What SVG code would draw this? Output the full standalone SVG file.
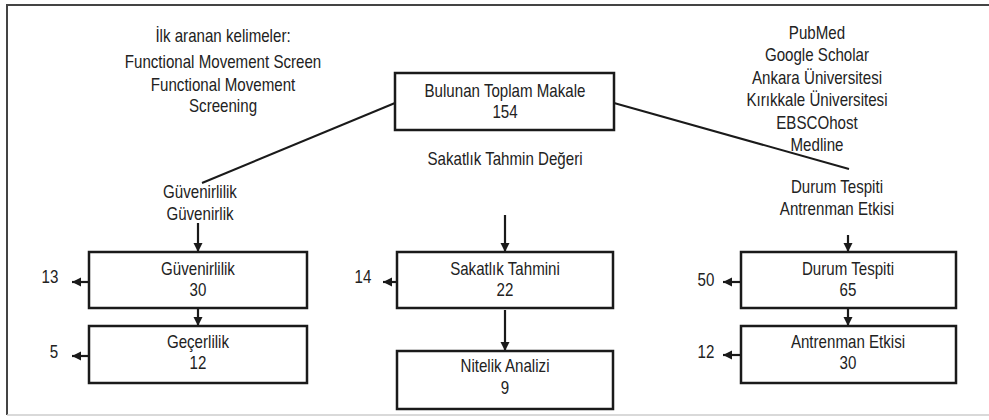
<svg xmlns="http://www.w3.org/2000/svg" width="989" height="420" viewBox="0 0 989 420">
<defs>
<style>
text{font-family:"Liberation Sans",Arial,sans-serif;font-size:18px;fill:#222;text-anchor:middle}
.box{fill:#fff;stroke:#1a1a1a;stroke-width:2.5}
.ln{stroke:#1a1a1a;stroke-width:2;fill:none}
.ar{stroke:#1a1a1a;stroke-width:2.2;fill:none;marker-end:url(#ah)}
</style>
<marker id="ah" markerUnits="userSpaceOnUse" markerWidth="10" markerHeight="10" refX="9" refY="4.5" orient="auto">
<path d="M0,0 L9,4.5 L0,9 z" fill="#1a1a1a"/>
</marker>
</defs>
<rect width="989" height="420" fill="#fff"/>
<g id="frame">
<path d="M7,415 V5 H989" stroke="#444" stroke-width="2" fill="none"/>
<path d="M7,415 H989" stroke="#ccc" stroke-width="1.5" fill="none"/>
</g>
<g id="search-terms" transform="scale(0.84,1)">
<text x="265.5" y="42">İlk aranan kelimeler:</text>
<text x="265.5" y="68">Functional Movement Screen</text>
<text x="265.5" y="91">Functional Movement</text>
<text x="265.5" y="112">Screening</text>
</g>
<g id="databases" transform="scale(0.84,1)">
<text x="972.6" y="39">PubMed</text>
<text x="972.6" y="61">Google Scholar</text>
<text x="972.6" y="84">Ankara Üniversitesi</text>
<text x="972.6" y="106">Kırıkkale Üniversitesi</text>
<text x="972.6" y="129">EBSCOhost</text>
<text x="972.6" y="151">Medline</text>
</g>
<g id="connectors">
<line class="ln" x1="395" y1="103" x2="202" y2="183"/>
<line class="ln" x1="614" y1="103" x2="849" y2="169"/>
<line class="ar" x1="198" y1="223" x2="198" y2="252"/>
<line class="ar" x1="198" y1="308" x2="198" y2="326"/>
<line class="ar" x1="505" y1="215" x2="505" y2="252"/>
<line class="ar" x1="505" y1="310" x2="505" y2="351"/>
<line class="ar" x1="848" y1="235" x2="848" y2="252"/>
<line class="ar" x1="848" y1="308" x2="848" y2="326"/>
<line class="ar" x1="89" y1="282" x2="72" y2="282"/>
<line class="ar" x1="89" y1="356" x2="72" y2="356"/>
<line class="ar" x1="397" y1="282" x2="383" y2="282"/>
<line class="ar" x1="741" y1="282" x2="723" y2="282"/>
<line class="ar" x1="741" y1="355" x2="723" y2="355"/>
</g>
<g id="labels" transform="scale(0.84,1)">
<text x="238.1" y="198">Güvenirlilik</text>
<text x="238.1" y="220">Güvenirlik</text>
<text x="601.2" y="165">Sakatlık Tahmin Değeri</text>
<text x="996.4" y="193">Durum Tespiti</text>
<text x="996.4" y="215">Antrenman Etkisi</text>
<text x="59.5" y="283">13</text>
<text x="64.3" y="358">5</text>
<text x="432.1" y="283">14</text>
<text x="840.5" y="286">50</text>
<text x="840.5" y="358">12</text>
</g>
<g id="node-total">
<rect class="box" x="395" y="73" width="219" height="57"/>
<g transform="scale(0.84,1)">
<text x="601.2" y="97">Bulunan Toplam Makale</text>
<text x="601.2" y="118">154</text>
</g>
</g>
<g id="node-guvenirlilik">
<rect class="box" x="89" y="252" width="218" height="56"/>
<g transform="scale(0.84,1)">
<text x="235.7" y="275">Güvenirlilik</text>
<text x="235.7" y="296">30</text>
</g>
</g>
<g id="node-gecerlilik">
<rect class="box" x="89" y="326" width="218" height="57"/>
<g transform="scale(0.84,1)">
<text x="235.7" y="348">Geçerlilik</text>
<text x="235.7" y="369">12</text>
</g>
</g>
<g id="node-sakatlik">
<rect class="box" x="397" y="252" width="216" height="56"/>
<g transform="scale(0.84,1)">
<text x="601.2" y="275">Sakatlık Tahmini</text>
<text x="601.2" y="296">22</text>
</g>
</g>
<g id="node-nitelik">
<rect class="box" x="397" y="351" width="216" height="58"/>
<g transform="scale(0.84,1)">
<text x="601.2" y="372">Nitelik Analizi</text>
<text x="601.2" y="394">9</text>
</g>
</g>
<g id="node-durum">
<rect class="box" x="741" y="252" width="215" height="56"/>
<g transform="scale(0.84,1)">
<text x="1009.5" y="275">Durum Tespiti</text>
<text x="1009.5" y="296">65</text>
</g>
</g>
<g id="node-antrenman">
<rect class="box" x="741" y="326" width="215" height="57"/>
<g transform="scale(0.84,1)">
<text x="1009.5" y="348">Antrenman Etkisi</text>
<text x="1009.5" y="369">30</text>
</g>
</g>
</svg>
